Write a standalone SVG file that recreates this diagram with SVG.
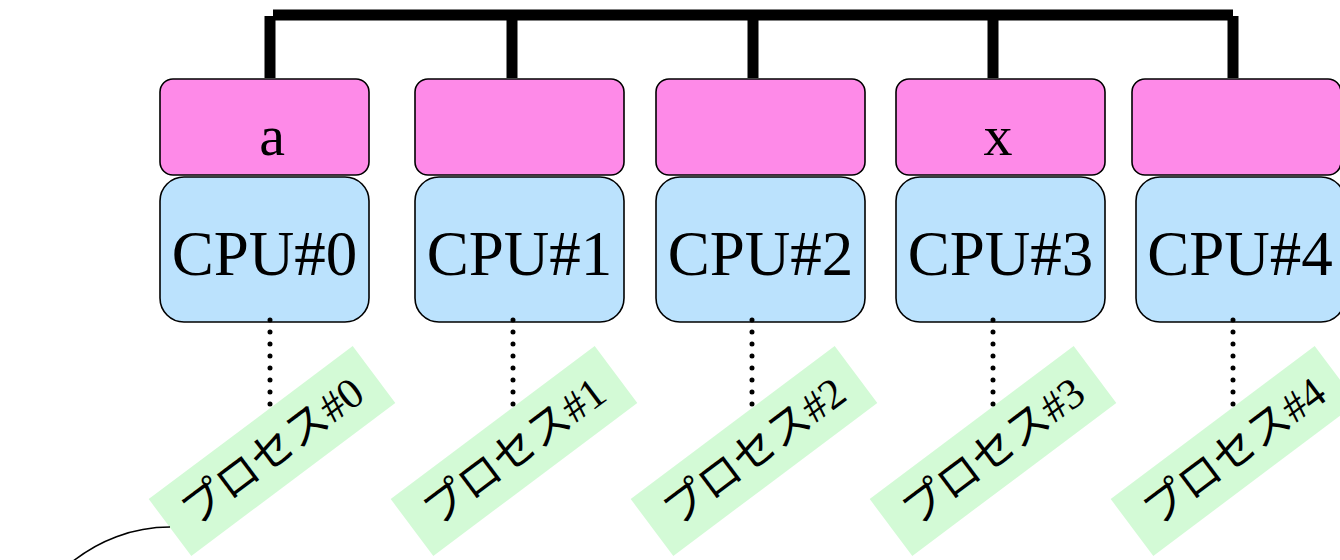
<svg xmlns="http://www.w3.org/2000/svg" width="1340" height="560" viewBox="0 0 1340 560">
  <style>
    .mem { fill: #fe8ae8; stroke: #000; stroke-width: 1.6; }
    .cpu { fill: #bbe2fd; stroke: #000; stroke-width: 1.6; }
    .proc { fill: #d3fad6; }
    .bus { stroke: #000; stroke-width: 11; fill: none; stroke-linecap: butt; }
    .dots { stroke: #000; stroke-width: 5; stroke-linecap: round; stroke-dasharray: 0 12; fill: none; }
    .cpu-label { font-family: "Liberation Serif", "Times New Roman", serif; font-size: 63px; text-anchor: middle; fill: #000; }
    .mem-label { font-family: "Liberation Serif", "Times New Roman", serif; font-size: 58px; text-anchor: middle; fill: #000; }
    .proc-label { font-family: "Liberation Serif", "Noto Sans CJK JP", serif; font-size: 43px; text-anchor: middle; fill: #000; }
  </style>

  <!-- CPU nodes with their local memory -->
  <g id="cpu0">
    <rect class="mem" x="160" y="79" width="209" height="96" rx="13"/>
    <rect class="cpu" x="160" y="177" width="209" height="145" rx="24"/>
    <text class="mem-label" x="272" y="155">a</text>
    <text class="cpu-label" x="264.5" y="275">CPU#0</text>
  </g>
  <g id="cpu1">
    <rect class="mem" x="415" y="79" width="209" height="96" rx="13"/>
    <rect class="cpu" x="415" y="177" width="209" height="145" rx="24"/>
    <text class="cpu-label" x="519.5" y="275">CPU#1</text>
  </g>
  <g id="cpu2">
    <rect class="mem" x="656" y="79" width="209" height="96" rx="13"/>
    <rect class="cpu" x="656" y="177" width="209" height="145" rx="24"/>
    <text class="cpu-label" x="760.5" y="275">CPU#2</text>
  </g>
  <g id="cpu3">
    <rect class="mem" x="896" y="79" width="209" height="96" rx="13"/>
    <rect class="cpu" x="896" y="177" width="209" height="145" rx="24"/>
    <text class="mem-label" x="998" y="155">x</text>
    <text class="cpu-label" x="1000.5" y="275">CPU#3</text>
  </g>
  <g id="cpu4">
    <rect class="mem" x="1132" y="79" width="209" height="96" rx="13"/>
    <rect class="cpu" x="1136" y="177" width="209" height="145" rx="24"/>
    <text class="cpu-label" x="1240" y="275">CPU#4</text>
  </g>

  <!-- process tags, tilted -->
  <g id="proc0" transform="translate(272,451) rotate(-36.87)">
    <rect class="proc" x="-127.5" y="-35.5" width="255" height="71"/>
    <text class="proc-label" x="0" y="15">プロセス#0</text>
  </g>
  <g id="proc1" transform="translate(514,451) rotate(-36.87)">
    <rect class="proc" x="-127.5" y="-35.5" width="255" height="71"/>
    <text class="proc-label" x="0" y="15">プロセス#1</text>
  </g>
  <g id="proc2" transform="translate(754,451) rotate(-36.87)">
    <rect class="proc" x="-127.5" y="-35.5" width="255" height="71"/>
    <text class="proc-label" x="0" y="15">プロセス#2</text>
  </g>
  <g id="proc3" transform="translate(993,451) rotate(-36.87)">
    <rect class="proc" x="-127.5" y="-35.5" width="255" height="71"/>
    <text class="proc-label" x="0" y="15">プロセス#3</text>
  </g>
  <g id="proc4" transform="translate(1234,451) rotate(-36.87)">
    <rect class="proc" x="-127.5" y="-35.5" width="255" height="71"/>
    <text class="proc-label" x="0" y="15">プロセス#4</text>
  </g>

  <!-- shared bus and CPU-to-process links, drawn over the boxes -->
  <g id="connectors">
    <line class="bus" x1="273" y1="15" x2="1233" y2="15"/>
    <line class="bus" x1="270" y1="16" x2="270" y2="78"/>
    <line class="bus" x1="512" y1="18" x2="512" y2="78"/>
    <line class="bus" x1="753" y1="18" x2="753" y2="78"/>
    <line class="bus" x1="993" y1="18" x2="993" y2="78"/>
    <line class="bus" x1="1233" y1="16" x2="1233" y2="78"/>
    <line class="dots" x1="270" y1="320" x2="270" y2="405"/>
    <line class="dots" x1="513" y1="320" x2="513" y2="405"/>
    <line class="dots" x1="752" y1="320" x2="752" y2="405"/>
    <line class="dots" x1="993" y1="320" x2="993" y2="405"/>
    <line class="dots" x1="1233" y1="320" x2="1233" y2="405"/>
    <path d="M170,527 C132,527 98,541 72,562" fill="none" stroke="#000" stroke-width="1.6"/>
  </g>
</svg>
